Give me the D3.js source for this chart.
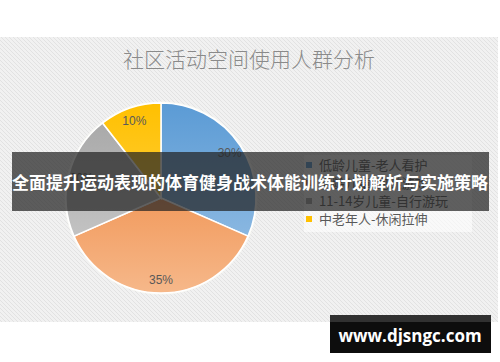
<!DOCTYPE html>
<html>
<head>
<meta charset="utf-8">
<script src="https://cdn.jsdelivr.net/npm/d3@7/dist/d3.min.js"></script>
<style>
  html, body { margin: 0; padding: 0; background: #fff; }
  svg { display: block; }
</style>
</head>
<body>
<svg id="chart" width="500" height="362"></svg>
<script>
// Chart data
const title = "社区活动空间使用人群分析";
const categories = ["低龄儿童-老人看护", "学龄儿童-跑跳游戏", "11-14岁儿童-自行游玩", "中老年人-休闲拉伸"];
const values = [30, 35, 20, 10];
const labels = ["30%", "35%", "20%", "10%"];
const colorsTop = ["#5b9bd5", "#ed7d31", "#a5a5a5", "#ffc000"];
const colorsBottom = ["#9dc3e6", "#f6b88a", "#cfcfcf", "#ffd966"];
const bannerText = "全面提升运动表现的体育健身战术体能训练计划解析与实施策略";
const siteText = "www.djsngc.com";

const W = 500, H = 362;
const svg = d3.select("#chart");
const defs = svg.append("defs");

// striped panel background
const pat = defs.append("pattern")
  .attr("id", "stripes").attr("patternUnits", "userSpaceOnUse")
  .attr("width", 4).attr("height", 4);
pat.append("rect").attr("width", 4).attr("height", 4).attr("fill", "#f1f1f1");
pat.append("path").attr("d", "M-1,-1 L5,5 M-1,3 L1,5 M3,-1 L5,1")
  .attr("stroke", "#e2e2e2").attr("stroke-width", 1);

svg.append("rect").attr("width", W).attr("height", H).attr("fill", "#fff");
svg.append("rect").attr("x", 0).attr("y", 37).attr("width", 498).attr("height", 285)
  .attr("fill", "url(#stripes)");

// title
svg.append("text").attr("x", 249).attr("y", 67)
  .attr("text-anchor", "middle")
  .attr("font-family", "'Noto Sans CJK SC', sans-serif")
  .attr("font-weight", 300)
  .attr("font-size", 21).attr("fill", "#8a8a8a")
  .text(title);

// vertical gradients per slice
colorsTop.forEach((c, i) => {
  const g = defs.append("linearGradient").attr("id", "grad" + i)
    .attr("gradientUnits", "userSpaceOnUse")
    .attr("x1", 0).attr("y1", -95).attr("x2", 0).attr("y2", 95);
  g.append("stop").attr("offset", "0%").attr("stop-color", c);
  g.append("stop").attr("offset", "100%").attr("stop-color", colorsBottom[i]);
});

const cx = 161, cy = 198, R = 95;
const pie = d3.pie().sort(null).value(d => d)(values);
const arc = d3.arc().innerRadius(0).outerRadius(R);
const labelArc = d3.arc().innerRadius(82).outerRadius(82);

const g = svg.append("g").attr("transform", `translate(${cx},${cy})`);
g.append("circle").attr("r", R + 1.5).attr("fill", "#fbfbf4").attr("opacity", 0.9);
g.selectAll("path.slice").data(pie).join("path")
  .attr("class", "slice")
  .attr("d", arc)
  .attr("fill", (d, i) => `url(#grad${i})`)
  .attr("stroke", "#fff").attr("stroke-width", 1.5);

g.selectAll("text.lbl").data(pie).join("text")
  .attr("class", "lbl")
  .attr("transform", d => `translate(${labelArc.centroid(d)})`)
  .attr("text-anchor", "middle").attr("dy", "0.35em")
  .attr("font-family", "'Liberation Sans Narrow', 'Liberation Sans', Arial, sans-serif")
  .attr("font-size", 12).attr("fill", "#595959")
  .text((d, i) => labels[i]);

// legend
const lg = svg.append("g");
lg.append("rect").attr("x", 304).attr("y", 155).attr("width", 168).attr("height", 77)
  .attr("fill", "#fff").attr("opacity", 0.6);
const ly = d3.scalePoint().domain(categories).range([165, 219]);
categories.forEach((c, i) => {
  lg.append("rect").attr("x", 306).attr("y", ly(c) - 3).attr("width", 6).attr("height", 6)
    .attr("fill", colorsTop[i]);
  lg.append("text").attr("x", 319).attr("y", ly(c)).attr("dy", "0.36em")
    .attr("font-family", "'Noto Sans CJK SC', sans-serif")
    .attr("font-size", 13).attr("fill", "#595959")
    .text(c);
});

// overlay banner
svg.append("rect").attr("x", 12).attr("y", 152).attr("width", 477).attr("height", 59)
  .attr("fill", "#222").attr("opacity", 0.72);
svg.append("text").attr("x", 250).attr("y", 183)
  .attr("text-anchor", "middle").attr("dy", "0.36em")
  .attr("font-family", "'Noto Sans CJK SC', sans-serif")
  .attr("font-weight", "bold")
  .attr("font-size", 17).attr("fill", "#fff")
  .text(bannerText);

// site badge
svg.append("rect").attr("x", 330).attr("y", 315).attr("width", 161).attr("height", 38)
  .attr("fill", "#000").attr("opacity", 0.95);
svg.append("rect").attr("x", 330).attr("y", 315).attr("width", 161).attr("height", 7)
  .attr("fill", "#555").attr("opacity", 0.5);
svg.append("text").attr("x", 410).attr("y", 336)
  .attr("text-anchor", "middle").attr("dy", "0.36em")
  .attr("font-family", "'Open Sans', 'DejaVu Sans', sans-serif")
  .attr("font-weight", "bold")
  .attr("font-size", 17).attr("fill", "#fff")
  .text(siteText);
</script>
</body>
</html>
